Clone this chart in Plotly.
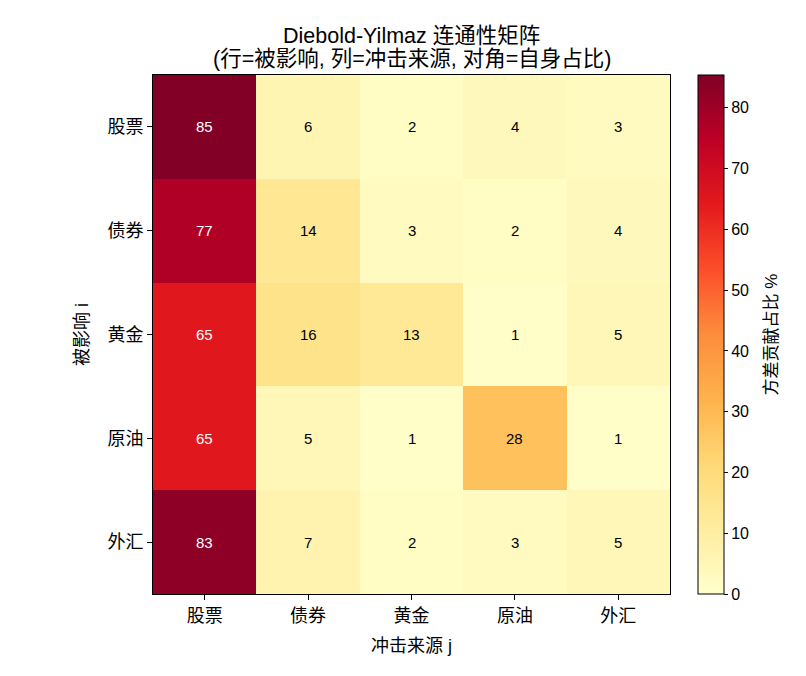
import plotly.graph_objects as go

assets = ["股票", "债券", "黄金", "原油", "外汇"]
row_stock = [85, 6, 2, 4, 3]
row_bond = [77, 14, 3, 2, 4]
row_gold = [65, 16, 13, 1, 5]
row_oil = [65, 5, 1, 28, 1]
row_fx = [83, 7, 2, 3, 5]
matrix = [row_stock, row_bond, row_gold, row_oil, row_fx]
cbar_ticks = [0, 10, 20, 30, 40, 50, 60, 70, 80]

ylorrd = ["#ffffcc", "#ffeda0", "#fed976", "#feb24c", "#fd8d3c",
          "#fc4e2a", "#e31a1c", "#bd0026", "#800026"]
cscale = [[i / (len(ylorrd) - 1), c] for i, c in enumerate(ylorrd)]

FONT = "Liberation Sans, Arial, Noto Sans CJK SC, sans-serif"
zmax = 85.4

W, H = 806, 676
L, R, T, B = 153, 670, 75, 594
pw, ph = R - L, B - T

fig = go.Figure(go.Heatmap(
    z=matrix, x=assets, y=assets,
    colorscale=cscale, zmin=0, zmax=zmax,
    xgap=0, ygap=0,
    colorbar=dict(
        thickness=26, len=1, lenmode="fraction", y=0.5, yanchor="middle",
        x=(698 - L) / pw, xanchor="left", xpad=0, ypad=0,
        outlinewidth=1, outlinecolor="black",
        tickvals=cbar_ticks, ticks="outside", ticklen=4, tickcolor="black",
        tickfont=dict(size=16, color="black", family=FONT),
    ),
))

annotations = []
for i, row in enumerate(matrix):
    for j, v in enumerate(row):
        annotations.append(dict(
            x=assets[j], y=assets[i], text=str(v), showarrow=False,
            font=dict(size=15, family=FONT,
                      color="white" if v > 50 else "black"),
        ))

# title lines and colorbar title
cx = ((L + R) / 2 - L) / pw
annotations.append(dict(
    xref="paper", yref="paper", x=cx, y=(B - 36) / ph, text="Diebold-Yilmaz 连通性矩阵",
    showarrow=False, xanchor="center", yanchor="middle",
    font=dict(size=21.5, family=FONT, color="black")))
annotations.append(dict(
    xref="paper", yref="paper", x=cx, y=(B - 59) / ph,
    text="(行=被影响, 列=冲击来源, 对角=自身占比)",
    showarrow=False, xanchor="center", yanchor="middle",
    font=dict(size=21.5, family=FONT, color="black")))
annotations.append(dict(
    xref="paper", yref="paper", x=(771 - L) / pw, y=0.5, text="方差贡献占比 %",
    showarrow=False, xanchor="center", yanchor="middle", textangle=-90,
    font=dict(size=17, family=FONT, color="black")))

fig.update_layout(
    width=W, height=H,
    margin=dict(l=L, r=W - R, t=T, b=H - B),
    paper_bgcolor="white", plot_bgcolor="white",
    font=dict(family=FONT, color="black"),
    annotations=annotations,
    xaxis=dict(
        title=dict(text="冲击来源 j", font=dict(size=18), standoff=14),
        showline=True, linecolor="black", linewidth=1, mirror=True,
        ticks="outside", ticklen=5, tickcolor="black",
        tickfont=dict(size=18), showgrid=False, zeroline=False,
        constrain="domain",
    ),
    yaxis=dict(
        title=dict(text="被影响 i", font=dict(size=18), standoff=14),
        showline=True, linecolor="black", linewidth=1, mirror=True,
        ticks="outside", ticklen=5, tickcolor="black",
        tickfont=dict(size=18), showgrid=False, zeroline=False,
        autorange="reversed",
    ),
)

fig.write_html("out.html")
